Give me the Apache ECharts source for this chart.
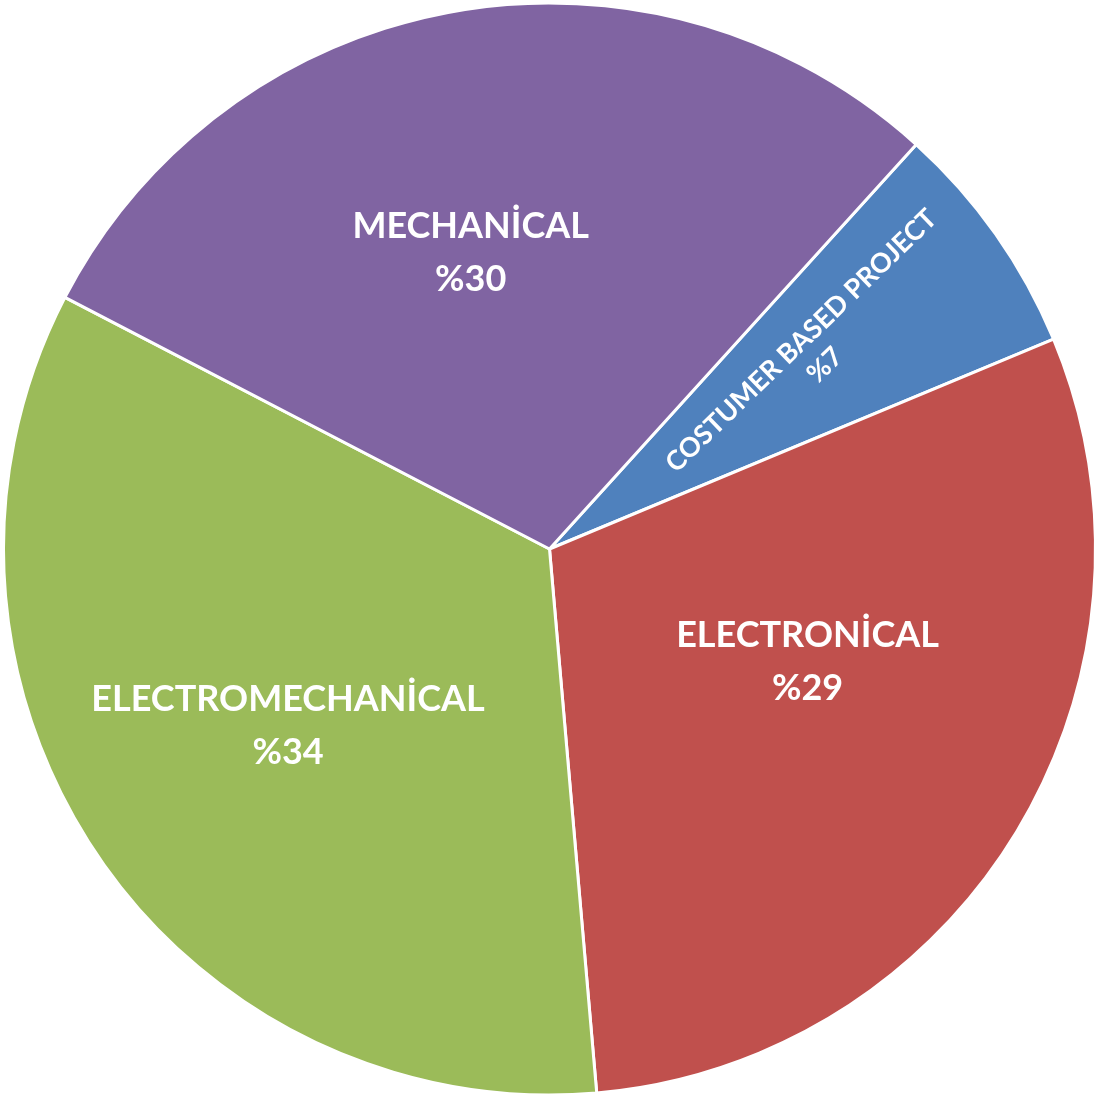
<!DOCTYPE html>
<html><head><meta charset="utf-8">
<script src="https://cdn.jsdelivr.net/npm/echarts@6/dist/echarts.min.js"></script>
<style>html,body{margin:0;padding:0;background:#fff}#c{width:1099px;height:1096px}</style>
</head><body><div id="c"></div>
<script>
const categories = ['COSTUMER BASED PROJECT', 'ELECTRONİCAL', 'ELECTROMECHANİCAL', 'MECHANİCAL'];
const values = [7, 29.9, 34, 29.1];
const pctLabels = ['%7', '%29', '%34', '%30'];
const colors = ['#4F81BD', '#C0504D', '#9BBB59', '#8064A2'];
const labelShift = [[53, 0], [22, -30], [-32, 24], [-30, -24]];

const chart = echarts.init(document.getElementById('c'));
const data = categories.map((c, i) => ({
  name: c, value: values[i],
  itemStyle: { color: colors[i] },
  label: i === 0 ? { rotate: 44, fontSize: 27, lineHeight: 34 } : {}
}));
chart.setOption({
  animation: false,
  series: [{
    type: 'pie',
    center: [549.5, 549],
    radius: 546,
    startAngle: 47.8,
    clockwise: true,
    avoidLabelOverlap: false,
    itemStyle: { borderColor: '#fff', borderWidth: 3 },
    label: {
      show: true, position: 'inside', color: '#fff',
      fontFamily: 'Lato', fontWeight: 'bold', fontSize: 36, lineHeight: 53,
      formatter: p => p.name + '\n' + pctLabels[p.dataIndex]
    },
    labelLine: { show: false },
    labelLayout: p => ({ dx: labelShift[p.dataIndex][0], dy: labelShift[p.dataIndex][1] }),
    data: data
  }]
});
</script></body></html>
